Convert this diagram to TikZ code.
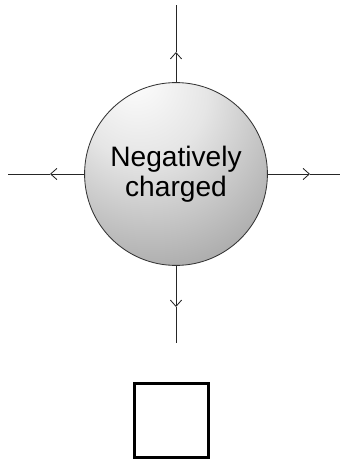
\documentclass[tikz,border=0pt]{standalone}
\usepackage{fontspec}
\setmainfont{Liberation Sans}
\usetikzlibrary{arrows.meta}
\pgfdeclareradialshading{sphere}{\pgfpoint{-12bp}{28bp}}{%
  color(0bp)=(white); color(18bp)=(black!10); color(45bp)=(black!36);
  color(65bp)=(black!58); color(80bp)=(black!72); color(86bp)=(black!74)}
\tikzset{
  field/.style={draw=black!85, line width=0.6pt},
  fieldarrow/.style={field, -{Straight Barb[length=4.5pt,width=8pt]}},
}
\begin{document}
\begin{tikzpicture}[x=0.025cm,y=0.025cm]
  \useasboundingbox (-176,-287) rectangle (164,174);
  % charged sphere
  \node[circle, draw=black!80, line width=0.6pt, minimum size=4.57cm, inner sep=0pt,
        shading=sphere, align=center,
        font=\fontsize{20}{21.5}\selectfont] (ball) at (0,0) {Negatively\\charged};
  % field lines
  \coordinate (topend) at (0,169);
  \coordinate (toptip) at (0,122);
  \coordinate (botend) at (0,-169);
  \coordinate (bottip) at (0,-133);
  \coordinate (leftend) at (-168,0);
  \coordinate (lefttip) at (-126,0);
  \coordinate (rightend) at (164,0);
  \coordinate (righttip) at (134,0);
  \draw[fieldarrow] (ball.north) -- (toptip);
  \draw[field] (toptip) -- (topend);
  \draw[fieldarrow] (ball.south) -- (bottip);
  \draw[field] (bottip) -- (botend);
  \draw[fieldarrow] (ball.west) -- (lefttip);
  \draw[field] (lefttip) -- (leftend);
  \draw[fieldarrow] (ball.east) -- (righttip);
  \draw[field] (righttip) -- (rightend);
  % empty box
  \node[draw, line width=1.8pt, minimum size=1.85cm, inner sep=0pt] (box) at (-4.5,-246.5) {};
\end{tikzpicture}
\end{document}
